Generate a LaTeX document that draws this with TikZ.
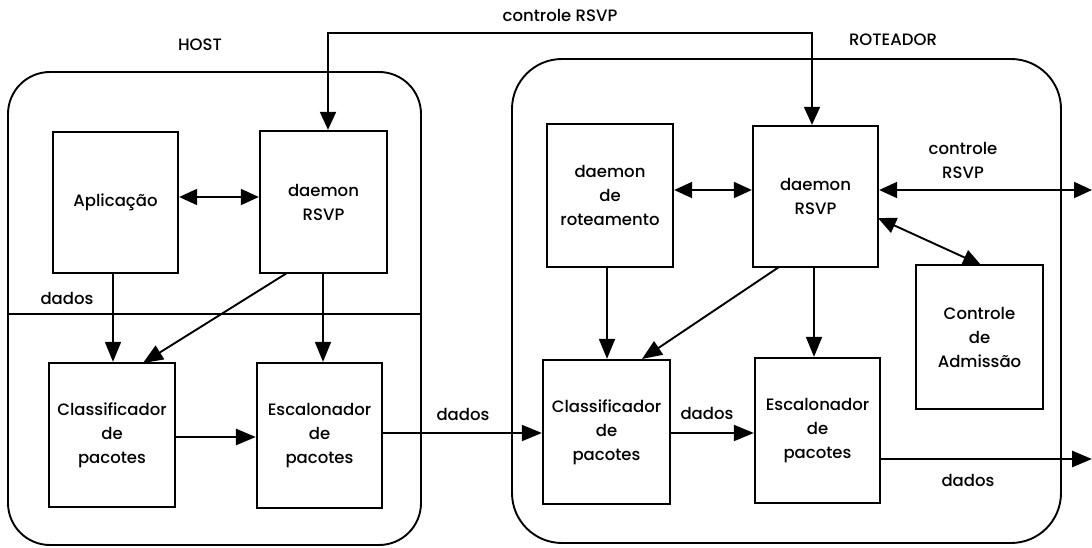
\documentclass[tikz,border=0pt]{standalone}
\usepackage{fontspec}
\setmainfont{Poppins}[UprightFont={* Medium}]
\usetikzlibrary{arrows.meta}
\begin{document}
\begin{tikzpicture}[x=1pt,y=-1pt,
  every node/.style={font=\fontsize{16.5}{24}\selectfont},
  blk/.style={draw,line width=2.3pt,align=center,inner sep=0pt},
  region/.style={draw,line width=1.9pt},
  conn/.style={line width=1.9pt,-{Triangle[length=20pt,width=16pt]}},
  biconn/.style={line width=1.9pt,{Triangle[length=18pt,width=16pt]}-{Triangle[length=18pt,width=16pt]}},
  lbl/.style={inner sep=0pt,align=center}]
\useasboundingbox (0,0) rectangle (1092,548);

% the two enclosures
\draw[region,rounded corners=42pt] (8,72) rectangle (421,545);
\draw[region,rounded corners=50pt] (512,59) rectangle (1061,543);
\coordinate (hostW) at (8,314);
\coordinate (hostE) at (421,314);
\draw[line width=1.6pt] (hostW) -- (hostE);

\node[lbl] (thost) at (200,45) {HOST};
\node[lbl] (trot) at (893,40) {ROTEADOR};

% host blocks
\node[blk,minimum width=125pt,minimum height=141pt] (app)  at (115.5,202.5) {Aplicação};
\node[blk,minimum width=127pt,minimum height=142pt] (hdae) at (323.5,202) {daemon\\RSVP};
\node[blk,minimum width=126pt,minimum height=144pt] (hcls) at (112,435) {Classificador\\de\\pacotes};
\node[blk,minimum width=125pt,minimum height=145pt] (hesc) at (319.5,435.5) {Escalonador\\de\\pacotes};

% router blocks
\node[blk,minimum width=126pt,minimum height=143pt] (rdae) at (610,195.5) {daemon\\de\\roteamento};
\node[blk,minimum width=125pt,minimum height=141pt] (rrsvp) at (815.5,196.5) {daemon\\RSVP};
\node[blk,minimum width=127pt,minimum height=144pt] (rcls) at (606.5,432) {Classificador\\de\\pacotes};
\node[blk,minimum width=125pt,minimum height=145pt] (resc) at (817.5,430.5) {Escalonador\\de\\pacotes};
\node[blk,minimum width=127pt,minimum height=144pt] (adm) at (979.5,337) {Controle\\de\\Admissão};

% RSVP control path between host and router
\coordinate (ctlL) at (328,33);
\coordinate (ctlR) at (812,33);
\draw[biconn] (hdae.north -| ctlL) -- (ctlL) -- (ctlR) -- (rrsvp.north -| ctlR);
\node[lbl] (tctl) at (560,15) {controle RSVP};

% host connectors
\draw[biconn] (app.east |- 0,197) -- (hdae.west |- 0,197);
\draw[conn] (app.south -| 113,0) -- (hcls.north -| 113,0);
\coordinate (hd1) at (287,273);
\coordinate (hd2) at (143,363);
\draw[conn] (hd1) -- (hd2);
\draw[conn] (hdae.south -| 323,0) -- (hesc.north -| 323,0);
\draw[conn,line width=2.7pt] (hcls.east |- 0,437) -- (hesc.west |- 0,437);
\node[lbl] (tdh) at (67,298) {dados};

% host to router data
\draw[conn] (hesc.east |- 0,433) -- (rcls.west |- 0,433);
\node[lbl] (tdm) at (463,414) {dados};

% router connectors
\draw[biconn] (rdae.east |- 0,190) -- (rrsvp.west |- 0,190);
\draw[conn] (rdae.south -| 607,0) -- (rcls.north -| 607,0);
\coordinate (rd1) at (779,267);
\coordinate (rd2) at (642,359);
\draw[conn] (rd1) -- (rd2);
\draw[conn] (rrsvp.south -| 814,0) -- (resc.north -| 814,0);
\draw[conn] (rcls.east |- 0,433) -- (resc.west |- 0,433);
\node[lbl] (tdr) at (707,413) {dados};

\coordinate (ctlOut) at (1092,190);
\draw[biconn] (rrsvp.east |- ctlOut) -- (ctlOut);
\node[lbl] (tctl2) at (963,160) {controle\\RSVP};

\coordinate (ad1) at (878,218);
\coordinate (ad2) at (981,265);
\draw[biconn] (ad1) -- (ad2);

\coordinate (datOut) at (1092,459);
\draw[conn,line width=2.7pt] (resc.east |- datOut) -- (datOut);
\node[lbl] (tdo) at (968,480) {dados};
\end{tikzpicture}
\end{document}
